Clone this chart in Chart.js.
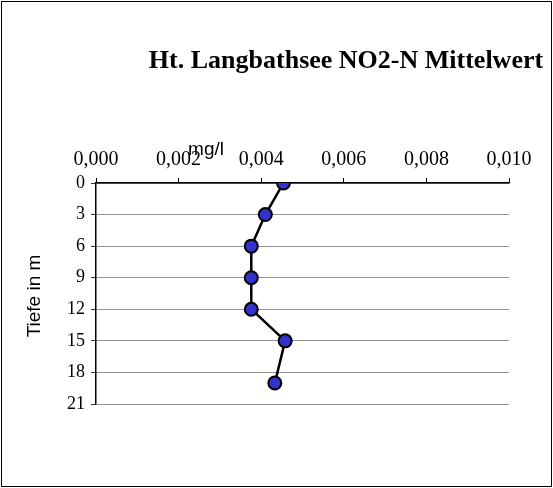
<!DOCTYPE html>
<html><head><meta charset="utf-8">
<script src="https://cdn.jsdelivr.net/npm/chart.js@4/dist/chart.umd.min.js"></script>
<style>
html,body{margin:0;padding:0;background:#fff;}
#wrap{position:absolute;left:1px;top:1px;width:549px;height:484px;border:1px solid #000;}
</style></head>
<body>
<div id="wrap"><canvas id="myChart" width="549" height="484"></canvas></div>
<script>
var depths = [0, 3, 6, 9, 12, 15, 19];
var no2 = [0.00454, 0.0041, 0.00376, 0.00376, 0.00376, 0.00458, 0.00433];
var titleText = "Ht. Langbathsee NO2-N Mittelwert";
var xTitle = "mg/l";
var yTitle = "Tiefe in m";

var points = [];
for (var i = 0; i < depths.length; i++) {
  points.push({x: no2[i], y: depths[i]});
}

//texts drawn at fixed spots, like in the original sheet
var labelsPlugin = {
  id: "labels",
  afterDraw: function (chart) {
    var ctx = chart.ctx;
    ctx.save();
    ctx.fillStyle = "#000";
    ctx.textAlign = "center";
    ctx.textBaseline = "middle";
    ctx.font = "bold 26px 'Liberation Serif'";
    ctx.fillText(titleText, 344, 59);
    ctx.font = "19px 'Liberation Sans'";
    ctx.fillText(xTitle, 204, 148);
    ctx.translate(33, 294);
    ctx.rotate(-Math.PI / 2);
    ctx.fillText(yTitle, 0, 0);
    ctx.restore();
  }
};

var ctx = document.getElementById("myChart").getContext("2d");
new Chart(ctx, {
  type: "line",
  data: {
    datasets: [{
      data: points,
      borderColor: "#000",
      borderWidth: 2.5,
      pointRadius: 6.5,
      pointBorderWidth: 2,
      pointBorderColor: "#000",
      pointBackgroundColor: "#3333cc",
      fill: false,
      tension: 0
    }]
  },
  options: {
    responsive: false,
    animation: false,
    layout: {padding: {left: 0, right: 42, top: 146, bottom: 82}},
    plugins: {legend: {display: false}, tooltip: {enabled: false}},
    scales: {
      x: {
        type: "linear",
        position: "top",
        min: 0, max: 0.01,
        afterFit: function (s) { s.height = 35; },
        grid: {drawOnChartArea: false, tickColor: "#000", tickLength: 5},
        border: {color: "#000", width: 1.5},
        ticks: {
          stepSize: 0.002,
          color: "#000",
          padding: 6,
          font: {family: "Liberation Serif", size: 20},
          callback: function (v) { return v.toFixed(3).replace(".", ","); }
        }
      },
      y: {
        type: "linear",
        reverse: true,
        min: 0, max: 21,
        afterFit: function (s) { s.width = 94; },
        grid: {color: "#777", lineWidth: 0.8, borderDash: [1, 1], tickColor: "#000", tickLength: 5},
        border: {color: "#000", width: 1.5},
        ticks: {
          stepSize: 3,
          color: "#000",
          padding: 6,
          font: {family: "Liberation Serif", size: 18}
        }
      }
    }
  },
  plugins: [labelsPlugin]
});
</script>
</body></html>
